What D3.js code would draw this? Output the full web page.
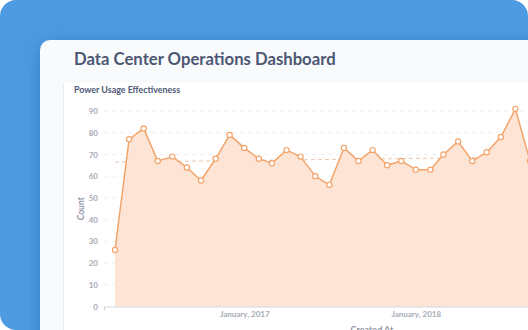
<!DOCTYPE html>
<html>
<head>
<meta charset="utf-8">
<script src="https://cdn.jsdelivr.net/npm/d3@7/dist/d3.min.js"></script>
<style>
  html, body { margin: 0; padding: 0; background: #ffffff; }
  svg { display: block; font-family: Lato, "Open Sans", sans-serif; }
</style>
</head>
<body>
<svg id="chart" width="528" height="330"></svg>
<script>
// Monthly counts, April 2016 – September 2018
const months = [
  "2016-04", "2016-05", "2016-06", "2016-07", "2016-08", "2016-09",
  "2016-10", "2016-11", "2016-12", "2017-01", "2017-02", "2017-03",
  "2017-04", "2017-05", "2017-06", "2017-07", "2017-08", "2017-09",
  "2017-10", "2017-11", "2017-12", "2018-01", "2018-02", "2018-03",
  "2018-04", "2018-05", "2018-06", "2018-07", "2018-08", "2018-09"
];
const counts = [
  26, 77, 82, 67, 69, 64, 58, 68, 79, 73, 68, 66, 72, 69, 60,
  56, 73, 67, 72, 65, 67, 63, 63, 70, 76, 67, 71, 78, 91, 67
];
// Trend line end values (first and last month)
const trendValues = [66.5, 68.8];
const yTicks = [0, 10, 20, 30, 40, 50, 60, 70, 80, 90];
const xTickLabels = ["2017-01", "2018-01"];

const parseMonth = d3.utcParse("%Y-%m");
const data = months.map((m, i) => ({ date: parseMonth(m), value: counts[i] }));
const trend = [
  { date: data[0].date, value: trendValues[0] },
  { date: data[data.length - 1].date, value: trendValues[1] }
];

const svg = d3.select("#chart");
const defs = svg.append("defs");
const shadow = defs.append("filter").attr("id", "cardShadow")
  .attr("x", "-20%").attr("y", "-20%").attr("width", "140%").attr("height", "140%");
shadow.append("feDropShadow")
  .attr("dx", 0).attr("dy", 3).attr("stdDeviation", 9)
  .attr("flood-color", "#1b4e8c").attr("flood-opacity", 0.35);

// Blue backdrop
svg.append("rect")
  .attr("x", 0).attr("y", 0).attr("width", 528).attr("height", 330)
  .attr("rx", 16).attr("fill", "#4e9be1");

// Dashboard card
svg.append("rect")
  .attr("x", 40).attr("y", 40).attr("width", 560).attr("height", 340)
  .attr("rx", 10).attr("fill", "#f8fafc")
  .attr("filter", "url(#cardShadow)");

// Card panel holding the chart
svg.append("rect")
  .attr("x", 63.5).attr("y", 83).attr("width", 540).attr("height", 300)
  .attr("fill", "#ffffff");
svg.append("line")
  .attr("x1", 63.5).attr("x2", 63.5).attr("y1", 83).attr("y2", 330)
  .attr("stroke", "#e9edf2").attr("stroke-width", 1);

svg.append("text")
  .attr("x", 74).attr("y", 65)
  .attr("font-size", 16.7).attr("font-weight", 700)
  .attr("fill", "#4c5773")
  .text("Data Center Operations Dashboard");

svg.append("text")
  .attr("x", 74).attr("y", 92.5)
  .attr("font-size", 8.9).attr("font-weight", 700)
  .attr("fill", "#4c5773")
  .text("Power Usage Effectiveness");

// Scales
const plotLeft = 104, plotRight = 620;
const x = d3.scaleUtc()
  .domain([data[0].date, data[data.length - 1].date])
  .range([115, 530]);
const y = d3.scaleLinear().domain([0, 90]).range([306.5, 111]);

// Horizontal grid
const grid = svg.append("g");
grid.selectAll("line").data(yTicks.filter(t => t > 0)).join("line")
  .attr("x1", plotLeft).attr("x2", plotRight)
  .attr("y1", d => y(d)).attr("y2", d => y(d))
  .attr("stroke", "#eef0f3").attr("stroke-width", 1)
  .attr("stroke-dasharray", "4,4");

// Y axis labels
const yAxis = svg.append("g")
  .attr("transform", `translate(${plotLeft},0)`)
  .call(d3.axisLeft(y).tickValues(yTicks).tickSize(0).tickPadding(6));
yAxis.select(".domain").remove();
yAxis.selectAll("text")
  .attr("font-family", "Lato, sans-serif")
  .attr("font-size", 8).attr("font-weight", 700)
  .attr("fill", "#a6abb6");

svg.append("text")
  .attr("transform", `translate(83.5,${(y(0) + y(90)) / 2}) rotate(-90)`)
  .attr("text-anchor", "middle")
  .attr("font-size", 8.5).attr("font-weight", 700)
  .attr("fill", "#9299a8")
  .text("Count");

// Trend line (sits beneath the area fill)
svg.append("path")
  .datum(trend)
  .attr("fill", "none")
  .attr("stroke", "#e6c8b4").attr("stroke-width", 1)
  .attr("stroke-dasharray", "4,3")
  .attr("d", d3.line().x(d => x(d.date)).y(d => y(d.value)));

// Area and line
svg.append("path")
  .datum(data)
  .attr("fill", "#fde4d5")
  .attr("d", d3.area().x(d => x(d.date)).y0(y(0)).y1(d => y(d.value)));

svg.append("path")
  .datum(data)
  .attr("fill", "none")
  .attr("stroke", "#f2a46b").attr("stroke-width", 1.5)
  .attr("stroke-linejoin", "round")
  .attr("d", d3.line().x(d => x(d.date)).y(d => y(d.value)));

svg.append("g").selectAll("circle").data(data).join("circle")
  .attr("cx", d => x(d.date)).attr("cy", d => y(d.value))
  .attr("r", 2.6)
  .attr("fill", "#ffffff")
  .attr("stroke", "#f2a46b").attr("stroke-width", 1.2);

// X axis
svg.append("line")
  .attr("x1", plotLeft).attr("x2", plotRight)
  .attr("y1", y(0) + 0.5).attr("y2", y(0) + 0.5)
  .attr("stroke", "#cfd3da").attr("stroke-width", 1);
svg.append("line")
  .attr("x1", plotLeft + 0.5).attr("x2", plotLeft + 0.5)
  .attr("y1", y(0)).attr("y2", y(0) + 4)
  .attr("stroke", "#cfd3da").attr("stroke-width", 1);

const xAxis = svg.append("g")
  .attr("transform", `translate(0,${y(0)})`)
  .call(d3.axisBottom(x)
    .tickValues(xTickLabels.map(parseMonth))
    .tickFormat(d3.utcFormat("%B, %Y"))
    .tickSize(0).tickPadding(5));
xAxis.select(".domain").remove();
xAxis.selectAll("text")
  .attr("font-family", "Lato, sans-serif")
  .attr("font-size", 8).attr("font-weight", 700)
  .attr("fill", "#a6abb6");

svg.append("text")
  .attr("x", 372).attr("y", 333)
  .attr("text-anchor", "middle")
  .attr("font-size", 9).attr("font-weight", 700)
  .attr("fill", "#8f96a5")
  .text("Created At");
</script>
</body>
</html>
